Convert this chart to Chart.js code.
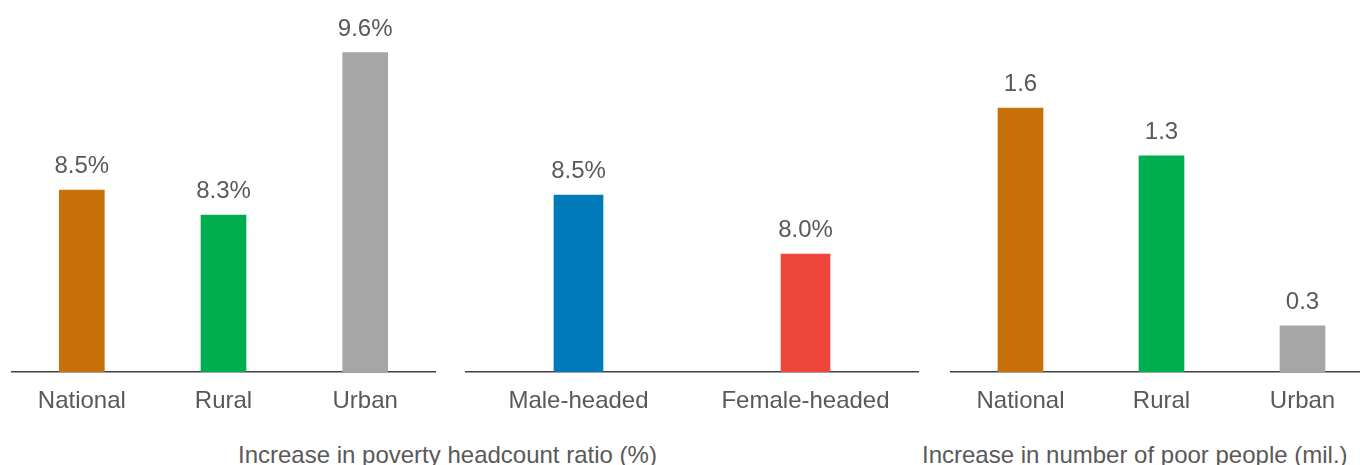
<!DOCTYPE html>
<html>
<head>
<meta charset="utf-8">
<script src="https://cdn.jsdelivr.net/npm/chart.js@4.4.1/dist/chart.umd.min.js"></script>
<style>
  html, body { margin: 0; padding: 0; background: #ffffff; width: 1360px; height: 465px; overflow: hidden; position: relative; }
  canvas { position: absolute; top: 0; }
  .title { position: absolute; font-family: "Liberation Sans", Arial, sans-serif; font-size: 24px; color: #595959; white-space: nowrap; line-height: 24px; }
</style>
</head>
<body>
<canvas id="c1" width="425" height="430" style="left:11px"></canvas>
<canvas id="c2" width="454" height="430" style="left:465px"></canvas>
<canvas id="c3" width="423" height="430" style="left:950px"></canvas>
<div class="title" id="t1" style="left:238px; top:443px;">Increase in poverty headcount ratio (%)</div>
<div class="title" id="t2" style="left:922px; top:443px;">Increase in number of poor people (mil.)</div>
<script>
// ---- Data ----
const areaCategories = ["National", "Rural", "Urban"];
const headcountRatio = [8.5, 8.3, 9.6];
const genderCategories = ["Male-headed", "Female-headed"];
const genderRatio = [8.5, 8.0];
const poorPeopleMil = [1.6, 1.31, 0.28];

const areaColors = ["#C8700A", "#00AE50", "#A6A6A6"];
const genderColors = ["#007AB8", "#EF463C"];

const FONT = "'Liberation Sans', Arial, sans-serif";
const TEXT = "#595959";

const valueLabels = {
  id: "valueLabels",
  afterDatasetsDraw(chart, args, opts) {
    const ctx = chart.ctx;
    ctx.save();
    ctx.font = "24px " + FONT;
    ctx.fillStyle = TEXT;
    ctx.textAlign = "center";
    ctx.textBaseline = "alphabetic";
    chart.getDatasetMeta(0).data.forEach((bar, i) => {
      const v = chart.data.datasets[0].data[i];
      ctx.fillText(opts.fmt(v), bar.x, bar.y - 17);
    });
    ctx.restore();
  }
};

function makeChart(id, labels, data, colors, yMin, yMax, thickness, fmt) {
  return new Chart(document.getElementById(id), {
    type: "bar",
    data: {
      labels: labels,
      datasets: [{ data: data, backgroundColor: colors, barThickness: thickness, borderWidth: 0 }]
    },
    options: {
      responsive: false,
      animation: false,
      events: [],
      layout: { padding: 0 },
      plugins: { legend: { display: false }, tooltip: { enabled: false }, valueLabels: { fmt: fmt } },
      scales: {
        x: {
          grid: { display: false, drawTicks: false },
          border: { display: true, color: "#404040", width: 1.5 },
          ticks: { color: TEXT, font: { family: FONT, size: 24 }, padding: 15, maxRotation: 0, autoSkip: false },
          afterFit: (s) => { s.height = 58; }
        },
        y: { display: false, min: yMin, max: yMax }
      }
    },
    plugins: [valueLabels]
  });
}

const pct = (v) => v.toFixed(1) + "%";
const num = (v) => v.toFixed(1);
makeChart("c1", areaCategories, headcountRatio, areaColors, 7.044, 7.044 + 372 / 125, 45, pct);
makeChart("c2", genderCategories, genderRatio, genderColors, 7.0, 7.0 + 372 / 118, 49, pct);
makeChart("c3", areaCategories, poorPeopleMil, areaColors, 0, 372 / 165, 45, num);
</script>
</body>
</html>
